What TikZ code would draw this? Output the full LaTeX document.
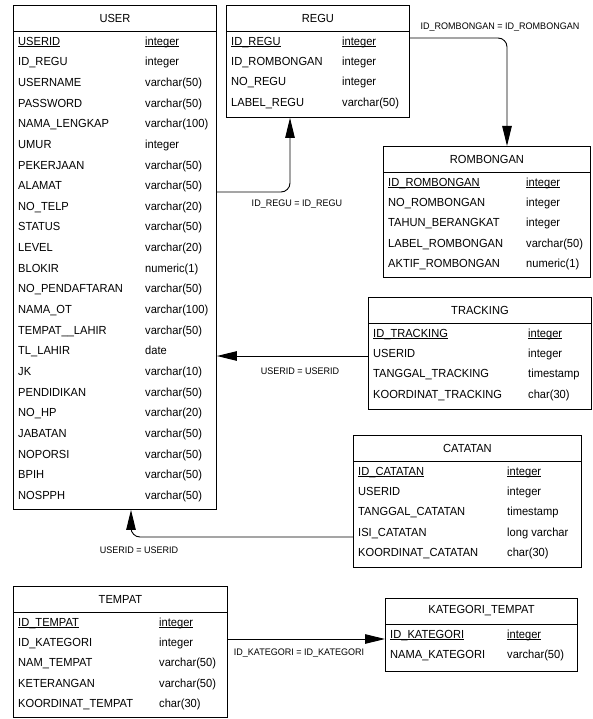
\documentclass[tikz,border=0pt]{standalone}
\usepackage{fontspec}
\setmainfont{Liberation Sans}[FakeStretch=0.95]
\usetikzlibrary{arrows.meta}
\newsavebox\pkbox
\newcommand\pkul[1]{\sbox\pkbox{#1}\rlap{\rule[-2.2pt]{\wd\pkbox}{0.9pt}}\usebox\pkbox}
\tikzset{
  tbl/.style={draw, line width=0.9pt, inner sep=0pt, anchor=north west, fill=white},
  fld/.style={anchor=mid west, inner sep=0pt, font=\fontsize{11.7}{13}\selectfont},
  hdr/.style={inner sep=0pt, font=\fontsize{11.7}{13}\selectfont},
  rel/.style={line width=0.9pt, -{Triangle[length=20pt,width=9.5pt]}, rounded corners=9pt},
  lbl/.style={inner sep=0pt, font=\fontsize{9.5}{11}\selectfont}
}
% #1 name, #2 x, #3 y, #4 width, #5 height, #6 title, #7 col2 offset, #8 rows, #9 step
\newcommand\ertable[9]{%
  \node[tbl, minimum width=#4pt, minimum height=#5pt] (#1) at (#2,#3) {};
  \draw[line width=0.9pt] ([yshift=-26pt]#1.north west) -- ([yshift=-26pt]#1.north east);
  \node[hdr] (#1-h) at ([yshift=-13pt]#1.north) {#6};
  \foreach \f/\t [count=\i from 0] in {#8} {
    \node[fld] (#1-f\i) at ({#2+5},{#3+37.5+\i*#9}) {\ifnum\i=0 \pkul{\f}\else\f\fi};
    \node[fld] (#1-t\i) at ({#2+#7},{#3+37.5+\i*#9}) {\ifnum\i=0 \pkul{\t}\else\t\fi};
  }%
}
\begin{document}
\begin{tikzpicture}[x=1pt,y=-1pt]
\useasboundingbox[fill=white] (0,0) rectangle (593,719);

\ertable{user}{13}{5}{203}{504}{USER}{132}{%
USERID/integer, ID\_REGU/integer, USERNAME/varchar(50), PASSWORD/varchar(50),
NAMA\_LENGKAP/varchar(100), UMUR/integer, PEKERJAAN/varchar(50), ALAMAT/varchar(50),
NO\_TELP/varchar(20), STATUS/varchar(50), LEVEL/varchar(20), BLOKIR/numeric(1),
NO\_PENDAFTARAN/varchar(50), NAMA\_OT/varchar(100), TEMPAT\_\_LAHIR/varchar(50),
TL\_LAHIR/date, JK/varchar(10), PENDIDIKAN/varchar(50), NO\_HP/varchar(20),
JABATAN/varchar(50), NOPORSI/varchar(50), BPIH/varchar(50), NOSPPH/varchar(50)}{20.65}

\ertable{regu}{226}{5}{183}{112}{REGU}{116}{%
ID\_REGU/integer, ID\_ROMBONGAN/integer, NO\_REGU/integer, LABEL\_REGU/varchar(50)}{20.4}

\ertable{rombongan}{383}{146}{207}{131}{ROMBONGAN}{143}{%
ID\_ROMBONGAN/integer, NO\_ROMBONGAN/integer, TAHUN\_BERANGKAT/integer,
LABEL\_ROMBONGAN/varchar(50), AKTIF\_ROMBONGAN/numeric(1)}{20.4}

\ertable{tracking}{368}{297}{223}{112}{TRACKING}{160}{%
ID\_TRACKING/integer, USERID/integer, TANGGAL\_TRACKING/timestamp,
KOORDINAT\_TRACKING/char(30)}{20.4}

\ertable{catatan}{353}{435}{228}{132}{CATATAN}{154}{%
ID\_CATATAN/integer, USERID/integer, TANGGAL\_CATATAN/timestamp,
ISI\_CATATAN/long varchar, KOORDINAT\_CATATAN/char(30)}{20.4}

\ertable{tempat}{13}{586}{214}{131}{TEMPAT}{146}{%
ID\_TEMPAT/integer, ID\_KATEGORI/integer, NAM\_TEMPAT/varchar(50),
KETERANGAN/varchar(50), KOORDINAT\_TEMPAT/char(30)}{20.4}

\ertable{kategori}{385}{598}{192}{73}{KATEGORI\_TEMPAT}{122}{%
ID\_KATEGORI/integer, NAMA\_KATEGORI/varchar(50)}{20.4}

% relationships
\draw[rel] (regu.east |- 0,38) -| (rombongan.north -| 507,0);
\node[lbl] (l1) at (500,27) {ID\_ROMBONGAN = ID\_ROMBONGAN};

\draw[rel] (user.east |- 0,192) -| (regu.south -| 290,0);
\node[lbl] (l2) at (297,204) {ID\_REGU = ID\_REGU};

\draw[rel] (tracking.west |- 0,356) -- (user.east |- 0,356);
\node[lbl] (l3) at (300,371) {USERID = USERID};

\draw[rel] (catatan.west |- 0,537) -| (user.south -| 131,0);
\node[lbl] (l4) at (139,550) {USERID = USERID};

\draw[rel] (tempat.east |- 0,639) -- (kategori.west |- 0,639);
\node[lbl] (l5) at (299,653) {ID\_KATEGORI = ID\_KATEGORI};
\end{tikzpicture}
\end{document}
